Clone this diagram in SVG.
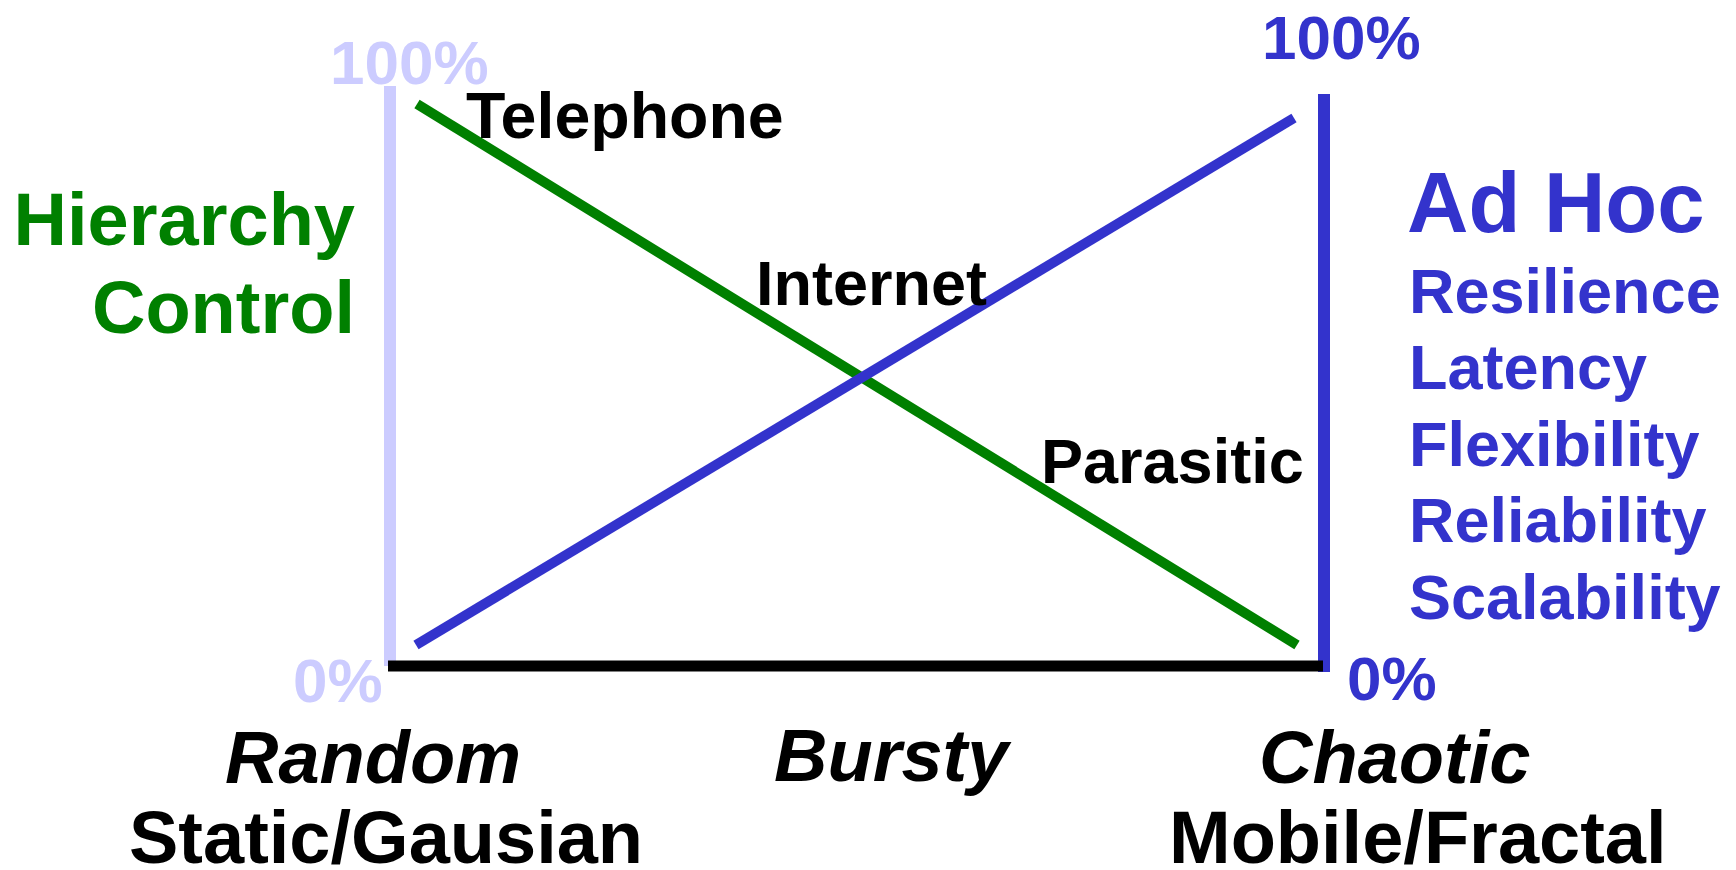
<svg xmlns="http://www.w3.org/2000/svg" width="1736" height="870" viewBox="0 0 1736 870">
<style>
text{font-family:"Liberation Sans",Arial,sans-serif;font-weight:bold}
.lav{fill:#ccccff}
.blu{fill:#3333cc}
.grn{fill:#008000}
.blk{fill:#000}
.it{font-style:italic}
.f62{font-size:62px}
.f63{font-size:63px}
.f74{font-size:74px}
.f85{font-size:85px}
</style>
<rect width="1736" height="870" fill="#fff"/>
<g id="connectors">
<line x1="390" y1="86" x2="390" y2="666" stroke="#ccccff" stroke-width="12"/>
<line x1="1324" y1="94" x2="1324" y2="672" stroke="#3333cc" stroke-width="12"/>
<line x1="388" y1="666" x2="1323" y2="666" stroke="#000" stroke-width="11"/>
<line x1="417" y1="104" x2="1297" y2="645" stroke="#008000" stroke-width="10"/>
<line x1="416" y1="645" x2="1294" y2="118" stroke="#3333cc" stroke-width="10"/>
</g>
<g id="left-axis-labels">
<text class="lav f62" x="330" y="84">100%</text>
<text class="lav f62" x="293" y="702">0%</text>
</g>
<g id="right-axis-labels">
<text class="blu f62" x="1262" y="59">100%</text>
<text class="blu f62" x="1347" y="700">0%</text>
</g>
<g id="hierarchy">
<text class="grn f74" x="355" y="245" text-anchor="end">Hierarchy</text>
<text class="grn f74" x="355" y="333" text-anchor="end">Control</text>
</g>
<g id="adhoc">
<text class="blu f85" x="1407" y="232">Ad Hoc</text>
<text class="blu f63" x="1409" y="313">Resilience</text>
<text class="blu f63" x="1409" y="389">Latency</text>
<text class="blu f63" x="1409" y="466">Flexibility</text>
<text class="blu f63" x="1409" y="542">Reliability</text>
<text class="blu f63" x="1409" y="619">Scalability</text>
</g>
<g id="telephone"><text class="blk" style="font-size:64.5px" x="466" y="138">Telephone</text></g>
<g id="internet"><text class="blk f63" x="756" y="305">Internet</text></g>
<g id="parasitic"><text class="blk f63" x="1041" y="483">Parasitic</text></g>
<g id="random">
<text class="blk f74 it" x="225" y="783">Random</text>
<text class="blk f74" x="129" y="863">Static/Gausian</text>
</g>
<g id="bursty"><text class="blk f74 it" x="774" y="781">Bursty</text></g>
<g id="chaotic">
<text class="blk f74 it" x="1259" y="783">Chaotic</text>
<text class="blk f74" x="1169" y="863">Mobile/Fractal</text>
</g>
</svg>
